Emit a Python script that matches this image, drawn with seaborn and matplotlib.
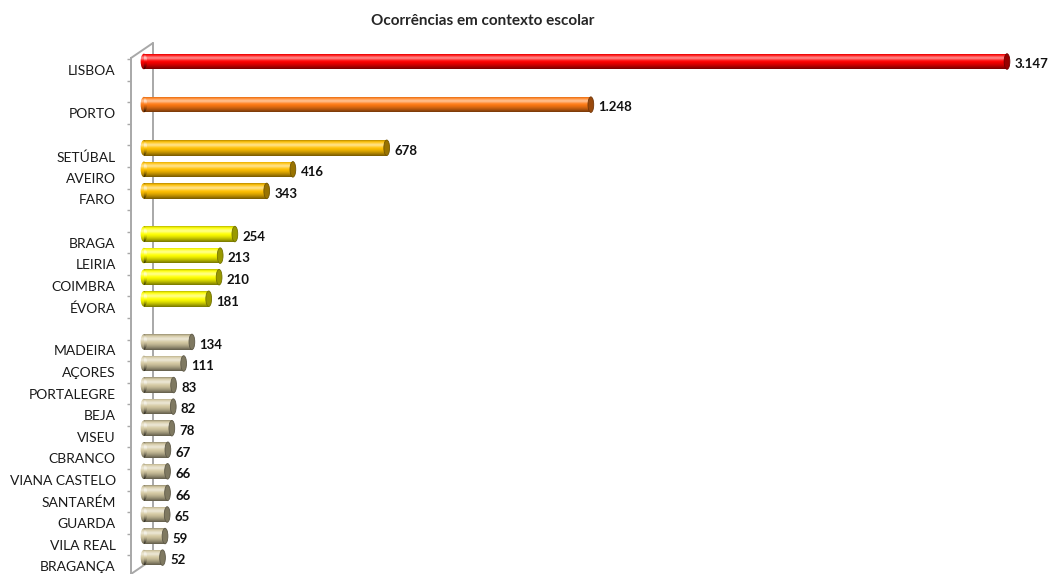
import numpy as np
import pandas as pd
import matplotlib
matplotlib.use('Agg')
import matplotlib.pyplot as plt
import matplotlib.colors as mcolors
from matplotlib.patches import Ellipse
from matplotlib.lines import Line2D
import seaborn as sns

# grupos do gráfico (com um espaço vazio entre grupos)
grupo_1 = ['LISBOA']
grupo_2 = ['PORTO']
grupo_3 = ['SETÚBAL', 'AVEIRO', 'FARO']
grupo_4 = ['BRAGA', 'LEIRIA', 'COIMBRA', 'ÉVORA']
grupo_5 = ['MADEIRA', 'AÇORES', 'PORTALEGRE', 'BEJA', 'VISEU', 'CBRANCO',
           'VIANA CASTELO', 'SANTARÉM', 'GUARDA', 'VILA REAL', 'BRAGANÇA']

valores_1 = [3147]
valores_2 = [1248]
valores_3 = [678, 416, 343]
valores_4 = [254, 213, 210, 181]
valores_5 = [134, 111, 83, 82, 78, 67, 66, 66, 65, 59, 52]

cores = ['#FF0000', '#FF7A14', '#FFC000', '#FFFF00', '#D4C9A2']

titulo = 'Ocorrências em contexto escolar'
x_max = 2410  # o eixo do Excel corta a barra de LISBOA

# montar tabela com posições (deixa uma linha vazia entre grupos)
linhas = []
pos = 0
for g, (nomes, vals) in enumerate(zip([grupo_1, grupo_2, grupo_3, grupo_4, grupo_5],
                                      [valores_1, valores_2, valores_3, valores_4, valores_5])):
    for n, v in zip(nomes, vals):
        linhas.append({'distrito': n, 'valor': v, 'pos': pos, 'grupo': g})
        pos += 1
    pos += 1
df = pd.DataFrame(linhas)

sns.set_style('white')
plt.rcParams['font.family'] = ['Lato', 'DejaVu Sans']

W, H = 1048, 574
fig = plt.figure(figsize=(W / 100, H / 100), dpi=100)
# eixos em pixels: esquerda 131, direita 1007, topo 45, base 574
ax = fig.add_axes([131 / W, 0, 876 / W, 529 / H])
ax.set_facecolor('none')

sns.barplot(data=df, x='valor', y='pos', hue='grupo', palette=cores, orient='h',
            native_scale=True, width=0.72, legend=False, ax=ax,
            edgecolor='none', linewidth=0, saturation=1)

x_min = -36
y_top, y_bot = -0.765, 23.76

# sombreamento tipo cilindro
t = np.linspace(0, 1, 60)
a_luz = 0.55 * np.exp(-((t - 0.3) / 0.13) ** 2)
a_sombra = 0.55 * np.clip((t - 0.5) / 0.5, 0, 1) ** 1.4 + 0.3 * np.exp(-(t / 0.06) ** 2)
luz = np.zeros((60, 1, 4)); luz[..., :3] = 1; luz[:, 0, 3] = a_luz
sombra = np.zeros((60, 1, 4)); sombra[:, 0, 3] = a_sombra

def sombrear(forma, x0, x1, y0, y1, z):
    for img_arr in (luz, sombra):
        im = ax.imshow(img_arr, extent=[x0, x1, y1, y0], aspect='auto',
                       interpolation='bicubic', zorder=z)
        im.set_clip_path(forma)

for barra, (_, r) in zip(ax.patches, df.iterrows()):
    base = cores[r['grupo']]
    escuro = tuple(c * 0.6 for c in mcolors.to_rgb(base))
    h = barra.get_height()
    y0 = barra.get_y()
    yc = y0 + h / 2
    fim = min(r['valor'], x_max)
    barra.set_zorder(2)
    sombrear(barra, 0, fim, y0, y0 + h, 2.5)
    # ponta esquerda arredondada
    esq = Ellipse((0, yc), 18, h, facecolor=base, edgecolor='none', zorder=2)
    ax.add_patch(esq)
    sombrear(esq, -10, 10, y0, y0 + h, 2.5)
    # tampa direita
    tampa = Ellipse((fim, yc), 16, h, facecolor=escuro, edgecolor=tuple(c * 0.75 for c in escuro),
                    linewidth=0.6, zorder=3, clip_on=False)
    ax.add_patch(tampa)
    ax.annotate(f'{r["valor"]:,}'.replace(',', '.'), xy=(fim, yc), xytext=(5.5, -2),
                textcoords='offset points', ha='left', va='center',
                fontsize=9.5, fontweight='bold', color='#111111', annotation_clip=False)

ax.set_xlim(x_min, x_max)
ax.set_ylim(y_bot, y_top)

# eixo vertical da frente com marcas entre categorias
cinza = '#A8A8A8'
for s in ['top', 'right', 'bottom']:
    ax.spines[s].set_visible(False)
ax.spines['left'].set_color(cinza)
ax.spines['left'].set_linewidth(1.4)
ax.spines['left'].set_bounds(-0.16, y_bot)
ax.set_xticks([])
ax.set_yticks(df['pos'] + 0.394)
ax.set_yticklabels(df['distrito'], fontsize=10, color='#1a1a1a')
ax.set_yticks([k - 0.106 for k in range(24)], minor=True)
ax.tick_params(axis='y', which='major', length=0, pad=11)
ax.tick_params(axis='y', which='minor', length=3, width=1, color=cinza, direction='out', left=True)
ax.set_xlabel('')
ax.set_ylabel('')

# parede do fundo (efeito 3D), atrás das barras
def px(x, y):
    return x / W, 1 - y / H

for (xa, ya), (xb, yb) in [((153, 43), (153, 559)), ((131, 58), (153, 43)), ((131, 574), (153, 559))]:
    (fx0, fy0), (fx1, fy1) = px(xa, ya), px(xb, yb)
    fig.add_artist(Line2D([fx0, fx1], [fy0, fy1], transform=fig.transFigure,
                          color=cinza, linewidth=1.4, zorder=-1))

fig.text(483 / W, 1 - 21 / H, titulo, ha='center', va='center', fontsize=11, fontweight='bold')

fig.savefig('out.png', dpi=100)
plt.close(fig)
